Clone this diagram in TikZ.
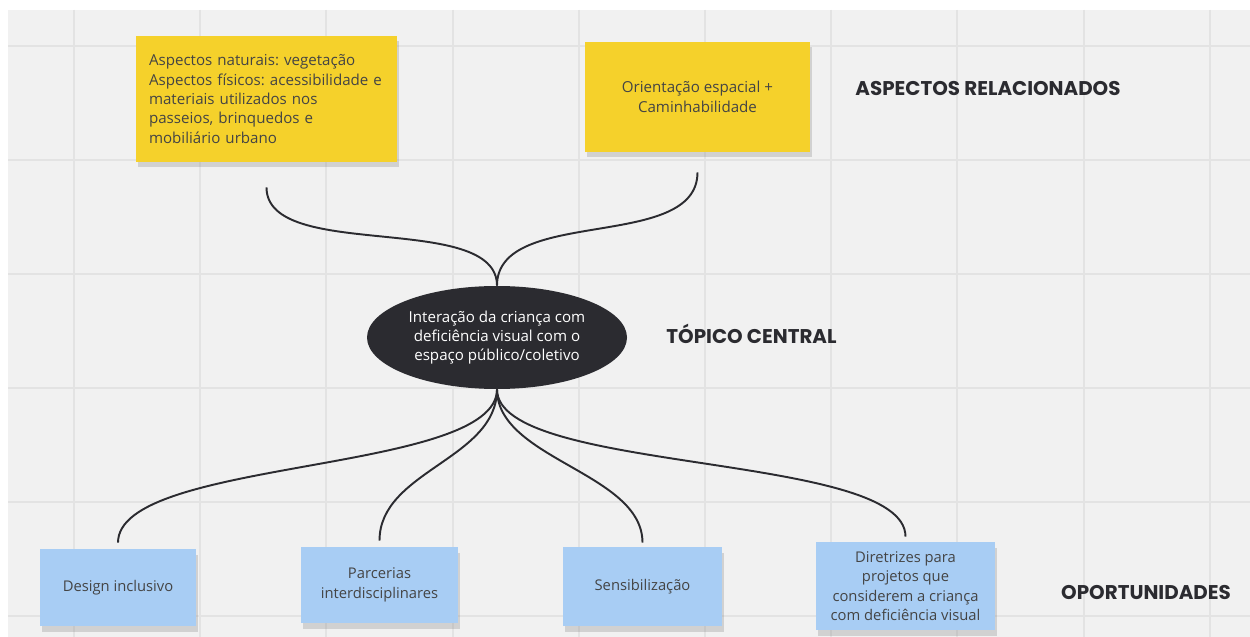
\documentclass[tikz,border=0pt]{standalone}
\usepackage{fontspec}
\setmainfont{Open Sans}
\newfontfamily\headfont{Poppins}
\frenchspacing
\usetikzlibrary{positioning,shapes.geometric,shadows}
\definecolor{boardbg}{HTML}{F1F1F1}
\definecolor{gridline}{HTML}{E3E3E3}
\definecolor{noteyellow}{HTML}{F5D12B}
\definecolor{noteblue}{HTML}{A8CDF4}
\definecolor{inkdark}{HTML}{2B2B30}
\definecolor{notetext}{HTML}{444444}
\tikzset{
  note/.style       = {rectangle, inner sep=0pt, align=center, text=notetext,
                       drop shadow={shadow xshift=0.03cm, shadow yshift=-0.11cm,
                                    opacity=0.28}},
  yellownote/.style = {note, fill=noteyellow, font=\fontsize{8.6}{11}\selectfont},
  bluenote/.style   = {note, fill=noteblue, font=\fontsize{8.4}{11}\selectfont},
  topic/.style      = {ellipse, fill=inkdark, text=white, inner sep=0pt,
                       align=center, font=\fontsize{8.6}{11}\selectfont},
  heading/.style    = {text=inkdark, font=\headfont\bfseries\fontsize{11.3}{13}\selectfont},
  branch/.style     = {draw=inkdark, line width=1.1pt},
}

\begin{document}
\begin{tikzpicture}
\useasboundingbox (0,0) rectangle (25,-12.74);
% ---------------- board ----------------
\fill[white] (0,0) rectangle (25,-12.74);
\fill[boardbg] (0.16,-0.2) rectangle (25,-12.74);
\foreach \i in {0,...,9}
  \draw[gridline, line width=0.04cm] ({1.48+2.524*\i},-0.2) -- ++(0,-12.54);
\foreach \j in {0,...,5}
  \draw[gridline, line width=0.04cm] (0.16,{-0.92-2.28*\j}) -- (25,{-0.92-2.28*\j});
% ---------------- notes ----------------
\node[yellownote, minimum width=5.22cm, minimum height=2.52cm, inner xsep=0.26cm,
      text width=4.7cm, align=left] (nat) at (5.33,-1.98)
   {Aspectos naturais: vegetação\\Aspectos físicos: acessibilidade e\\materiais utilizados nos\\passeios, brinquedos e\\mobiliário urbano};
\node[yellownote, minimum width=4.5cm, minimum height=2.2cm] (ori) at (13.95,-1.94)
   {Orientação espacial +\\Caminhabilidade};
\node[topic, minimum width=5.2cm, minimum height=2.06cm] (topic) at (9.94,-6.75)
   {Interação da criança com\\deficiência visual com o\\espaço público/coletivo};
\node[bluenote, minimum width=3.12cm, minimum height=1.54cm] (des) at (2.36,-11.75)
   {Design inclusivo};
\node[bluenote, minimum width=3.14cm, minimum height=1.52cm] (par) at (7.59,-11.7)
   {Parcerias\\interdisciplinares};
\node[bluenote, minimum width=3.18cm, minimum height=1.58cm] (sen) at (12.85,-11.73)
   {Sensibilização};
\node[bluenote, minimum width=3.58cm, minimum height=1.76cm] (dir) at (18.11,-11.72)
   {Diretrizes para\\projetos que\\considerem a criança\\com deficiência visual};
% ---------------- headings ----------------
\node[heading] (hasp) at (19.76,-1.78) {ASPECTOS RELACIONADOS};
\node[heading] (htop) at (15.03,-6.68) {TÓPICO CENTRAL};
\node[heading] (hopo) at (22.92,-11.84) {OPORTUNIDADES};
% ---------------- branches ----------------
\draw[branch] ([yshift=-0.5cm]nat.south) to[out=-90, in=90, distance=1.5cm] (topic.north);
\draw[branch] ([yshift=-0.4cm]ori.south) to[out=-90, in=90, distance=1.6cm] (topic.north);
\draw[branch] (topic.south) to[out=-90, in=90, distance=1.7cm] ([yshift=0.12cm]des.north);
\draw[branch] (topic.south) to[out=-90, in=90, distance=1.4cm] ([yshift=0.12cm]par.north);
\draw[branch] (topic.south) to[out=-90, in=90, distance=1.4cm] ([yshift=0.08cm]sen.north);
\draw[branch] (topic.south) to[out=-90, in=90, distance=1.7cm] ([yshift=0.1cm]dir.north);
\end{tikzpicture}
\end{document}
